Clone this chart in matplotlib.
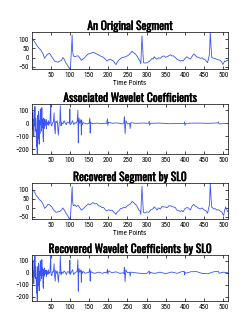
import numpy as np
import matplotlib.pyplot as plt
import matplotlib.patheffects as pe

# original ECG segment, (time point, value)
seg_pts = [(1, 100), (4, 98), (8, 85), (12, 72), (17, 57), (21, 48), (25, 38), (30, 20),
           (34, -4), (38, 8), (43, 19), (47, 23), (50, 14), (54, 0), (57, -8), (60, -19),
           (64, -22), (69, -25), (73, -20), (78, -15), (82, 0), (86, -12), (89, -28),
           (92, -35), (95, -47), (98, -56), (100, -66), (102, -40), (103, 0), (105, 80),
           (106, 122), (107, 40), (109, 9), (113, 4), (117, 8), (122, 9), (126, -2),
           (130, -15), (134, -8), (139, 0), (143, 10), (148, 19), (153, 22), (160, 28),
           (165, 25), (170, 19), (175, 14), (179, 9), (184, 5), (188, 0), (193, -10),
           (197, -19), (201, -12), (205, -9), (210, -15), (214, -19), (217, -30), (220, -38),
           (224, -25), (227, -15), (232, -6), (236, 0), (241, 2), (245, 4), (249, 8),
           (254, 15), (258, 25), (262, 34), (266, 26), (271, 19), (275, 8), (280, -9),
           (283, -20), (285, -34), (286, 20), (288, 117), (290, 40), (292, -28), (296, -30),
           (301, -28), (306, -22), (310, -15), (314, -5), (317, -8), (320, 4), (324, -5),
           (327, -9), (331, -2), (336, -4), (340, 5), (345, 9), (349, 2), (354, 4), (358, 10),
           (362, 15), (366, 9), (370, 9), (375, 0), (379, -9), (384, -14), (388, -19),
           (392, -15), (395, -19), (400, -5), (405, 4), (409, -2), (414, -9), (418, 5),
           (423, 19), (427, 12), (431, 4), (436, 0), (440, -4), (445, -2), (449, -9),
           (453, -12), (456, -20), (459, -28), (462, 0), (464, 19), (466, 138), (468, 60),
           (470, 0), (473, -2), (475, -4), (479, -6), (483, -9), (488, -12), (492, -15),
           (496, -25), (499, -38), (501, -30), (503, -19), (506, -22), (510, -15), (512, -15)]

# segment recovered by SL0
rec_pts = [(1, 95), (4, 100), (8, 88), (12, 70), (17, 58), (21, 45), (25, 40), (30, 22),
           (34, -2), (38, 5), (43, 20), (47, 18), (50, 12), (54, 2), (57, -10), (60, -17),
           (64, -24), (69, -22), (73, -20), (78, -12), (82, 0), (86, -14), (89, -26),
           (92, -35), (95, -45), (98, -58), (100, -64), (102, -38), (103, 2), (105, 82),
           (106, 118), (107, 38), (109, 12), (113, 18), (117, 8), (122, 14), (126, 0),
           (130, -12), (134, -6), (139, 5), (143, 12), (148, 22), (153, 18), (160, 30),
           (165, 22), (170, 24), (175, 12), (179, 10), (184, 2), (188, 2), (193, -12),
           (197, -17), (201, -10), (205, -14), (210, -12), (214, -22), (217, -28), (220, -36),
           (224, -22), (227, -18), (232, -4), (236, -2), (241, 4), (245, 2), (249, 10),
           (254, 18), (258, 22), (262, 36), (266, 30), (271, 20), (275, 10), (280, -12),
           (283, -18), (285, -36), (286, 24), (288, 120), (290, 36), (292, -26), (296, -28),
           (301, -22), (306, -24), (310, -12), (314, -8), (317, -4), (320, 6), (324, -2),
           (327, -12), (331, 0), (336, -6), (340, 8), (345, 6), (349, 4), (354, 2), (358, 12),
           (362, 12), (366, 8), (370, 6), (375, 2), (379, -12), (384, -16), (388, -20),
           (392, -14), (395, -22), (400, -4), (405, 2), (409, 0), (414, -12), (418, 8),
           (423, 20), (427, 10), (431, 6), (436, -2), (440, -6), (445, 0), (449, -10),
           (453, -14), (456, -20), (459, -30), (462, 2), (464, 16), (466, 138), (468, 58),
           (470, 2), (473, 0), (475, -6), (479, -4), (483, -12), (488, -10), (492, -18),
           (496, -22), (499, -36), (501, -42), (503, -18), (506, 5), (510, -15), (512, -20)]

# wavelet coefficients of the original segment
coef_pts = [(1, 60), (2, 20), (3, 80), (4, -50), (5, 30), (6, -100), (7, 100), (8, -20),
            (9, 130), (10, -60), (11, 40), (12, 10), (13, -180), (14, -50), (15, -240),
            (16, 60), (17, -120), (18, 90), (19, 60), (20, -160), (21, 20), (22, -80),
            (23, 110), (24, -10), (25, 60), (26, -60), (27, 120), (28, -30), (29, 30),
            (30, -100), (31, -140), (32, 40), (33, -40), (34, 30), (35, -20), (36, 10),
            (37, 0), (38, 30), (39, -40), (40, 10), (42, -10), (44, 20), (45, -15), (46, 10),
            (48, 0), (50, 155), (51, -10), (53, -20), (55, 5), (57, 10), (59, 80), (60, -30),
            (62, -80), (63, 15), (65, 5), (67, 20), (68, -15), (70, -90), (72, 0), (74, 10),
            (75, 135), (77, -20), (78, 10), (80, 0), (82, -5), (85, 20), (88, 0), (91, -10),
            (93, 10), (96, 5), (99, 0), (100, 110), (101, -10), (104, 0), (107, 20),
            (110, -10), (113, 5), (116, 0), (119, 15), (121, 100), (122, -150), (123, -20),
            (124, 40), (126, 0), (129, 30), (130, -90), (131, 20), (132, -10), (135, 5),
            (140, 0), (145, -5), (150, 0), (152, 40), (153, -75), (154, 10), (156, 0),
            (160, -3), (170, 2), (180, -3), (190, 0), (196, 0), (198, 35), (199, -15),
            (201, 10), (210, 0), (220, 3), (230, 0), (238, -5), (241, 10), (242, 50),
            (244, -80), (246, 20), (250, -5), (256, 0), (257, -40), (259, 5), (270, 0),
            (290, 2), (305, 0), (307, 15), (308, -15), (310, 0), (330, 2), (360, -3),
            (390, 0), (398, 0), (399, 10), (400, -15), (402, 0), (430, 2), (460, 0),
            (485, 3), (487, 10), (489, -5), (512, 0)]

# wavelet coefficients recovered by SL0
rcoef_pts = [(1, 70), (2, 20), (3, 100), (4, -40), (5, 20), (6, -90), (7, 110), (8, -30),
             (9, 140), (10, -50), (11, 50), (12, 0), (13, -170), (14, -40), (15, -240),
             (16, 50), (17, -110), (18, 80), (19, 70), (20, -150), (21, 10), (22, -70),
             (23, 100), (24, -20), (25, 70), (26, -50), (27, 110), (28, -20), (29, 40),
             (30, -110), (31, -130), (32, 30), (33, -30), (34, 40), (35, -10), (36, 20),
             (37, -10), (38, 20), (39, -30), (40, 20), (42, -15), (44, 25), (45, -10),
             (46, 5), (48, 0), (50, 150), (51, -15), (53, -25), (55, 10), (57, 5), (59, 75),
             (60, -20), (62, -70), (63, 20), (65, -5), (67, 15), (68, -10), (70, -80),
             (72, 5), (74, 0), (75, 140), (77, -15), (78, 5), (80, 5), (82, -5), (85, 15),
             (88, 5), (91, -15), (93, 5), (96, 10), (99, -5), (100, 105), (101, -15),
             (104, 5), (107, 25), (110, -15), (113, 0), (116, 5), (119, 10), (121, 110),
             (122, -155), (123, -10), (124, 35), (126, 5), (129, 25), (130, -80), (131, 15),
             (132, -5), (135, 10), (140, -5), (145, 0), (150, 5), (152, 35), (153, -70),
             (154, 15), (156, 5), (165, -5), (175, 5), (185, -5), (190, 3), (196, 0),
             (198, 30), (199, -10), (201, 15), (210, 0), (220, 8), (230, -5), (238, 0),
             (241, -8), (242, 45), (244, -75), (246, 25), (250, 0), (256, 5), (257, -30),
             (259, 5), (270, 0), (285, -5), (300, -8), (307, 15), (308, -12), (310, 4),
             (320, -6), (335, 5), (350, -8), (365, 6), (380, -5), (390, 8), (398, 12),
             (399, -18), (400, 5), (402, -4), (415, 8), (430, 10), (445, -6), (460, -8),
             (475, 8), (487, 12), (489, -4), (500, 5), (512, 0)]

line_color = '#3a55f5'
xticks = [50, 100, 150, 200, 250, 300, 350, 400, 450, 500]

fig = plt.figure(figsize=(2.51, 3.27), dpi=100)
narrow = ['Oswald', 'Roboto Condensed', 'Archivo Narrow', 'Liberation Sans Narrow', 'DejaVu Sans']
title_font = dict(family=narrow, fontsize=8.3, fontweight='bold',
                  path_effects=[pe.withStroke(linewidth=0.3, foreground='black')])
tick_font = ['Roboto Condensed', 'Archivo Narrow', 'Liberation Sans', 'DejaVu Sans']

panels = [
    ([0.127, 0.789, 0.781, 0.113], seg_pts, 'An Original Segment', (-62, 138), [-50, 0, 50, 100], True),
    ([0.127, 0.529, 0.781, 0.153], coef_pts, 'Associated Wavelet Coefficients', (-235, 148), [-200, -100, 0, 100], False),
    ([0.127, 0.330, 0.781, 0.110], rec_pts, 'Recovered Segment by SL0', (-62, 138), [-50, 0, 50, 100], True),
    ([0.127, 0.080, 0.781, 0.140], rcoef_pts, 'Recovered Wavelet Coefficients by SL0', (-235, 148), [-200, -100, 0, 100], False),
]

for rect, pts, title, ylim, yticks, show_xlabel in panels:
    ax = fig.add_axes(rect)
    xs, ys = zip(*pts)
    ax.plot(xs, ys, color=line_color, lw=0.6)
    ax.set_xlim(1, 512)
    ax.set_ylim(*ylim)
    ax.set_xticks(xticks)
    ax.set_yticks(yticks)
    ax.tick_params(direction='in', length=2, width=0.5, labelsize=5, pad=2,
                   top=True, right=True)
    for lab in ax.get_xticklabels() + ax.get_yticklabels():
        lab.set_family(tick_font)
    for s in ax.spines.values():
        s.set_linewidth(0.5)
    ax.set_title(title, pad=1.5, **title_font)
    if show_xlabel:
        ax.set_xlabel('Time Points', fontsize=5, family=tick_font, labelpad=1)

fig.savefig('out.png', dpi=100)
